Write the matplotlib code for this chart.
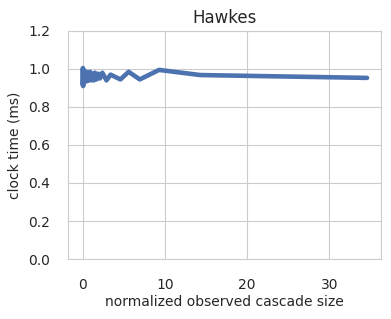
import matplotlib

matplotlib.use("Agg")
import matplotlib.pyplot as plt
import seaborn as sns

# normalized observed cascade size vs clock time (ms)
sizes = [0.0, 0.03, 0.06, 0.1, 0.15, 0.2, 0.3, 0.4, 0.5, 0.6, 0.75, 0.9, 1.05,
         1.2, 1.35, 1.5, 1.7, 1.9, 2.1, 2.4, 2.9, 3.4, 4.6, 5.6, 6.95, 9.3,
         14.3, 34.6]
times = [0.92, 1.005, 0.91, 0.995, 0.93, 0.99, 0.94, 0.985, 0.935, 0.98,
         0.94, 0.985, 0.94, 0.975, 0.94, 0.98, 0.945, 0.975, 0.95, 0.98,
         0.94, 0.97, 0.945, 0.985, 0.945, 0.995, 0.968, 0.953]

sns.set_style("whitegrid")

fig, ax = plt.subplots(figsize=(3.91, 3.19), dpi=100)
ax.plot(sizes, times, color="#4c72b0", linewidth=3.3)
ax.set_ylim(0, 1.2)
ax.set_xticks([0, 10, 20, 30])
ax.tick_params(axis="x", labelsize=10, pad=10)
ax.tick_params(axis="y", labelsize=10, pad=9.5)
ax.set_xlabel("normalized observed cascade size", fontsize=10, labelpad=2.5)
ax.set_ylabel("clock time (ms)", fontsize=10, labelpad=5)
ax.set_title("Hawkes", fontsize=12)

fig.subplots_adjust(left=0.175, right=0.975, top=0.903, bottom=0.188)
fig.savefig("out.png", dpi=100)
plt.close(fig)
